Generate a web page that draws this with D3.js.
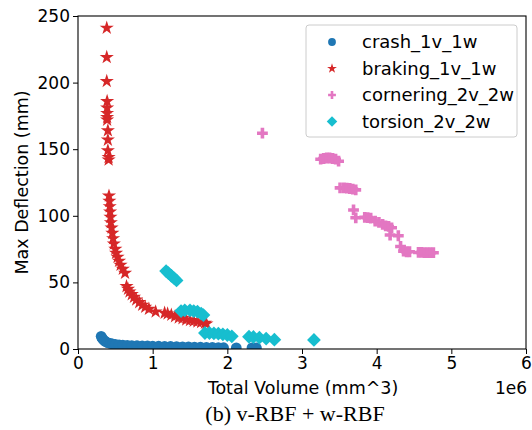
<!DOCTYPE html>
<html>
<head>
<meta charset="utf-8">
<script src="https://cdn.jsdelivr.net/npm/d3@7"></script>
<style>
  body { margin: 0; background: #fff; }
  svg text { font-family: "DejaVu Sans", sans-serif; }
</style>
</head>
<body>
<div id="chart"></div>
<script>

// series: [volume (x1e6 mm^3), max deflection (mm)]
var crash = [[0.31,9.5],[0.32,8.5],[0.33,7.5],[0.345,6.6],[0.36,5.9],[0.38,5.2],[0.40,4.7],[0.43,4.2],
  [0.46,3.8],[0.50,3.5],[0.55,3.2],[0.60,3.0],[0.66,2.8],[0.72,2.6],[0.79,2.5],[0.86,2.4],[0.93,2.3],
  [1.00,2.2],[1.08,2.1],[1.16,2.0],[1.24,1.9],[1.32,1.8],[1.40,1.7],[1.48,1.6],[1.56,1.5],[1.64,1.4],
  [1.72,1.3],[1.80,1.2],[1.88,1.1],[1.95,1.0],[2.12,0.9],[2.33,0.9],[2.39,0.8]];

var braking = [[0.385,241],[0.385,219],[0.385,201],[0.39,186],[0.39,181],[0.39,177],[0.39,174],[0.39,172],
  [0.40,164],[0.40,157],[0.40,149],[0.41,144],[0.41,142],
  [0.415,115],[0.42,111],[0.425,107],[0.43,103],[0.435,99],[0.44,95],[0.45,91],[0.46,87],[0.47,83],
  [0.48,79],[0.50,75],[0.51,72],[0.53,69],[0.55,66],[0.57,63],[0.60,60],[0.63,57],
  [0.65,47],[0.67,45],[0.69,43],[0.72,41],[0.75,39],[0.78,37],[0.82,35],[0.86,33],[0.90,31.5],[0.95,30],
  [1.04,28],[1.16,27],[1.20,26.5],[1.25,25.5],[1.30,24.5],[1.35,23.5],[1.40,23],[1.45,22],[1.50,21.5],
  [1.55,21],[1.60,20.5],[1.65,20],[1.70,19.5],[1.72,19]];

var cornering = [[2.47,162],[3.25,142.5],[3.29,143],[3.33,143.4],[3.37,143.4],[3.41,143],[3.45,142.5],[3.49,141],
  [3.51,121],[3.56,121],[3.60,120.8],[3.64,120.5],[3.68,120],[3.72,119.5],[3.69,104.4],[3.72,98.5],
  [3.84,98.8],[3.88,98.6],[3.92,98.3],[3.98,96],[4.03,95],[4.08,93.5],[4.12,92.5],[4.16,92],[4.20,91],
  [4.18,85.6],[4.29,85],[4.32,77],[4.36,73.5],[4.40,73],[4.44,73],[4.56,72.5],[4.60,72.5],[4.64,72.3],
  [4.68,72.3],[4.72,72.3],[4.76,72.3]];

var torsion = [[1.18,58.5],[1.21,57],[1.25,55],[1.29,53],[1.32,51.5],[1.38,28.5],[1.43,29],[1.50,29],[1.55,28.5],
  [1.60,28],[1.65,26.5],[1.68,25.5],[1.70,12],[1.76,12],[1.82,11.7],[1.88,11.5],[1.94,11],[2.00,10.5],
  [2.06,9.5],[2.29,9.2],[2.35,9],[2.43,8.5],[2.52,7.8],[2.63,7],[3.16,6.8]];

var seriesNames = ["crash_1v_1w", "braking_1v_1w", "cornering_2v_2w", "torsion_2v_2w"];
var xTicks = [0, 1, 2, 3, 4, 5, 6];
var yTicks = [0, 50, 100, 150, 200, 250];

var colors = ["#1f77b4", "#d62728", "#e377c2", "#17becf"];
var types = [d3.symbolCircle, d3.symbolStar, d3.symbolCross, d3.symbolSquare];
var plotSizes = [90, 62, 65, 95];
var legendSizes = [48, 30, 34, 55];
var rotations = [0, 0, 0, 45];

var margin = {top: 16, right: 6, bottom: 81, left: 78},
    width = 532 - margin.left - margin.right,
    height = 430 - margin.top - margin.bottom;

var svg = d3.select("#chart")
  .append("svg")
    .attr("width", 532)
    .attr("height", 430);

var g = svg.append("g")
    .attr("transform", "translate(" + margin.left + "," + margin.top + ")");

var x = d3.scaleLinear().domain([0, 6]).range([0, width]);
var y = d3.scaleLinear().domain([0, 250]).range([height, 0]);

g.append("clipPath").attr("id", "clip")
  .append("rect").attr("width", width).attr("height", height);

// points
var plot = g.append("g").attr("clip-path", "url(#clip)");
[crash, braking, cornering, torsion].forEach(function(data, i) {
  plot.selectAll("pt" + i)
    .data(data)
    .enter()
    .append("path")
      .attr("d", d3.symbol().type(types[i]).size(plotSizes[i]))
      .attr("transform", function(d) {
        return "translate(" + x(d[0]) + "," + y(d[1]) + ") rotate(" + rotations[i] + ")";
      })
      .style("fill", colors[i]);
});

// axes
var xAxis = g.append("g")
  .attr("transform", "translate(0," + height + ")")
  .call(d3.axisBottom(x).tickValues(xTicks).tickFormat(d3.format("d")).tickSizeOuter(0).tickSize(5).tickPadding(3));
var yAxis = g.append("g")
  .call(d3.axisLeft(y).tickValues(yTicks).tickSizeOuter(0).tickSize(5).tickPadding(3));

[xAxis, yAxis].forEach(function(a) {
  a.selectAll("text").style("font-size", "17px").style("fill", "#000").style("font-family", "DejaVu Sans");
  a.selectAll("line").style("stroke", "#000");
  a.select(".domain").remove();
});

// frame
g.append("rect")
  .attr("width", width).attr("height", height)
  .style("fill", "none").style("stroke", "#000").style("stroke-width", 1.1);

// labels
svg.append("text")
  .attr("x", 303).attr("y", 394)
  .attr("text-anchor", "middle").style("font-size", "17.5px")
  .text("Total Volume (mm^3)");
svg.append("text")
  .attr("x", 527).attr("y", 394)
  .attr("text-anchor", "end").style("font-size", "17px")
  .text("1e6");
svg.append("text")
  .attr("transform", "translate(28," + (margin.top + height / 2) + ") rotate(-90)")
  .attr("text-anchor", "middle").style("font-size", "17.5px")
  .text("Max Deflection (mm)");
svg.append("text")
  .attr("x", 295).attr("y", 421)
  .attr("text-anchor", "middle")
  .style("font-size", "22px").style("font-family", "Liberation Serif, serif")
  .text("(b) v-RBF + w-RBF");

// legend
var legend = svg.append("g").attr("transform", "translate(306,25)");
legend.append("rect")
  .attr("width", 211).attr("height", 112).attr("rx", 3)
  .style("fill", "#fff").style("fill-opacity", 0.8)
  .style("stroke", "#ccc").style("stroke-width", 1);
seriesNames.forEach(function(name, i) {
  var row = legend.append("g").attr("transform", "translate(0," + (17 + i * 26.5) + ")");
  row.append("path")
    .attr("d", d3.symbol().type(types[i]).size(legendSizes[i]))
    .attr("transform", "translate(26,0) rotate(" + rotations[i] + ")")
    .style("fill", colors[i]);
  row.append("text")
    .attr("x", 56).attr("y", 6)
    .style("font-size", "18px")
    .text(name);
});

</script>
</body>
</html>
